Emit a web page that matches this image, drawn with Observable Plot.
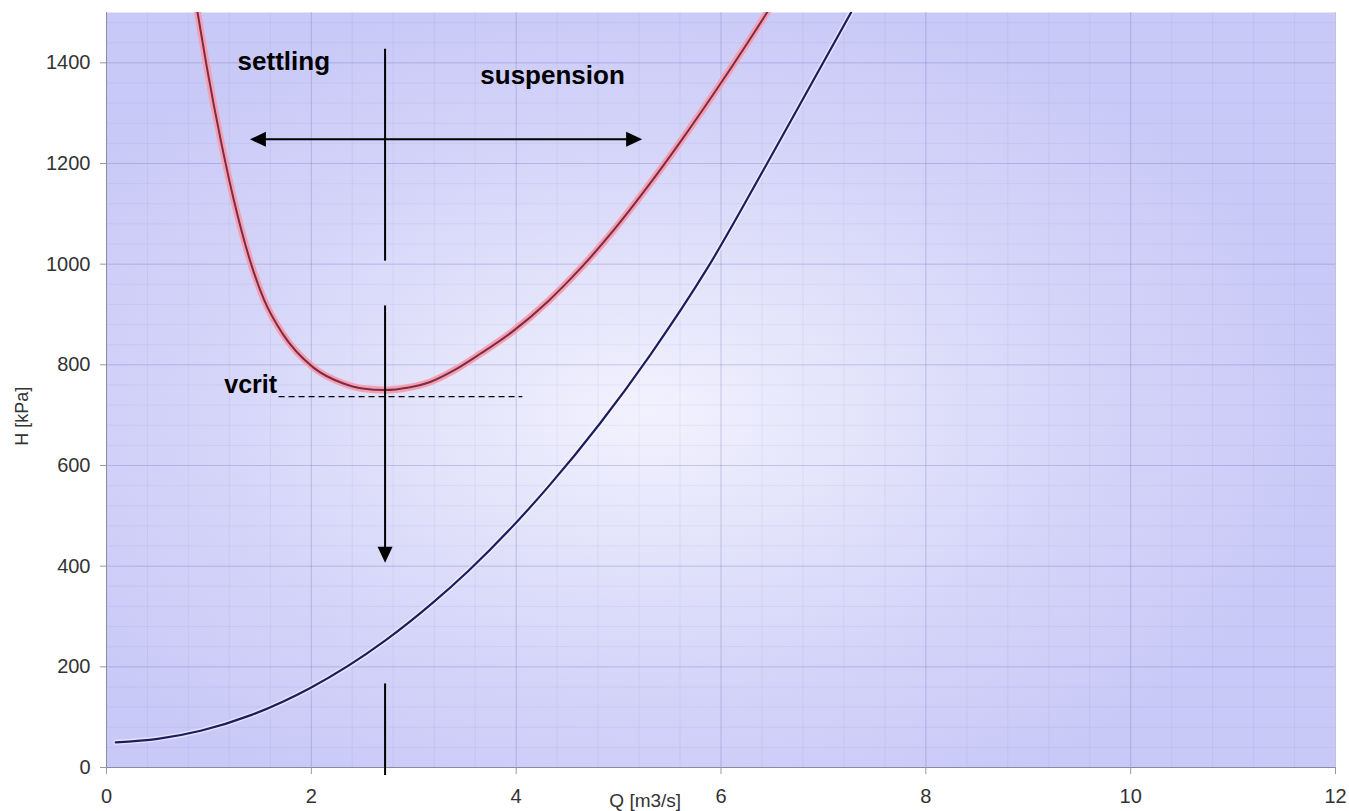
<!DOCTYPE html>
<html>
<head>
<meta charset="utf-8">
<script src="https://cdn.jsdelivr.net/npm/d3@7"></script>
<script src="https://cdn.jsdelivr.net/npm/@observablehq/plot@0.6"></script>
<style>
  html, body { margin: 0; padding: 0; background: #ffffff; }
  #chart { width: 1349px; height: 811px; }
</style>
</head>
<body>
<div id="chart"></div>
<script>
// ---- data ----
const xTicks = [0, 2, 4, 6, 8, 10, 12];
const yTicks = [0, 200, 400, 600, 800, 1000, 1200, 1400];

// red curve (settling / suspension boundary)
const redQ = [0.889, 0.98, 1.116, 1.245, 1.411, 1.541, 1.719, 2.018, 2.314, 2.5, 2.72, 2.95, 3.16, 3.4, 3.65, 3.97, 4.31, 4.63, 4.95, 5.28, 5.61, 5.93, 6.26, 6.45];
const redH = [1500, 1391, 1246, 1126, 1001, 928, 862, 795, 763, 753, 750, 755, 766, 790, 822, 867, 926, 992, 1067, 1153, 1245, 1339, 1440, 1500];

// dark blue curve
const blueQ = [0.09, 0.5, 0.92, 1.41, 1.99, 2.72, 3.19, 3.53, 4.31, 4.82, 5.31, 5.87, 6.45, 7.27];
const blueH = [50, 57, 73, 104, 158, 252, 328, 390, 557, 684, 820, 993, 1200, 1500];

// annotations
const vcritQ = 2.72;
const vSegY1 = [1428, 918, 167];
const vSegY2 = [1007, 425, -15];
const hArrowH = 1248;
const hArrowQ = [1.40, 5.23];
const hLineQ = [1.52, 5.11];
const downTipH = 407;
const dashQ = [1.68, 4.06];
const dashH = 737;
const labels = ["settling", "suspension", "vcrit"];
const labelQ = [1.28, 3.65, 1.15];
const labelH = [1385, 1357, 744];
const labelSize = [26, 26, 25];
const xTitle = "Q [m3/s]";
const xTitleQ = 5.26;
const yTitle = "H [kPa]";
const yTitleH = 698;

// ---- tables ----
const red = redQ.map((q, i) => ({q, h: redH[i]}));
const blue = blueQ.map((q, i) => ({q, h: blueH[i]}));
const vSegs = vSegY1.map((y1, i) => ({x: vcritQ, y1, y2: vSegY2[i]}));
const heads = [
  {q: hArrowQ[0], h: hArrowH, a: -90},
  {q: hArrowQ[1], h: hArrowH, a: 90},
  {q: vcritQ, h: downTipH, a: 180}
];
const texts = labels.map((t, i) => ({t, q: labelQ[i], h: labelH[i], s: labelSize[i]}));
const minorX = d3.range(0, 12.001, 0.4);
const minorY = d3.range(0, 1500.1, 40);

// arrowhead symbol with its tip at the origin, pointing up
const arrowHead = {
  draw(context) {
    context.moveTo(0, 0);
    context.lineTo(7.5, 16);
    context.lineTo(-7.5, 16);
    context.closePath();
  }
};

const svg = Plot.plot({
  width: 1349,
  height: 811,
  marginLeft: 106,
  marginRight: 14,
  marginTop: 12,
  marginBottom: 44,
  x: {domain: [0, 12]},
  y: {domain: [0, 1500]},
  style: {fontFamily: "'Liberation Sans', Arial, sans-serif", background: "#ffffff", overflow: "visible", color: "#333"},
  marks: [
    Plot.frame({fill: "url(#bgGrad)", stroke: null}),
    Plot.gridX(minorX, {stroke: "#6a6ac0", strokeOpacity: 0.08}),
    Plot.gridY(minorY, {stroke: "#6a6ac0", strokeOpacity: 0.08}),
    Plot.gridX(xTicks, {stroke: "#5a5aa8", strokeOpacity: 0.2}),
    Plot.gridY(yTicks, {stroke: "#5a5aa8", strokeOpacity: 0.2}),
    Plot.ruleX([0], {stroke: "#8a8aa0"}),
    Plot.ruleY([0], {stroke: "#8a8aa0"}),
    Plot.axisX({ticks: xTicks, tickSize: 7, tickPadding: 14, fontSize: 20, label: null, stroke: "#999", fill: "#333", tickFormat: d => `${d}`}),
    Plot.axisY({ticks: yTicks, tickSize: 6, tickPadding: 10, fontSize: 20, label: null, stroke: "#999", fill: "#333", tickFormat: d => `${d}`}),
    // curves
    Plot.line(red, {x: "q", y: "h", curve: "monotone-x", stroke: "#f5a0ae", strokeWidth: 7, clip: true}),
    Plot.line(red, {x: "q", y: "h", curve: "monotone-x", stroke: "#7a2a4a", strokeWidth: 2, clip: true}),
    Plot.line(blue, {x: "q", y: "h", curve: "monotone-x", stroke: "#ffffff", strokeOpacity: 0.5, strokeWidth: 5, clip: true}),
    Plot.line(blue, {x: "q", y: "h", curve: "monotone-x", stroke: "#1c1c5e", strokeWidth: 2.2, clip: true}),
    // annotations
    Plot.link(vSegs, {x1: "x", x2: "x", y1: "y1", y2: "y2", stroke: "#000", strokeWidth: 2}),
    Plot.link([{a: hLineQ[0], b: hLineQ[1]}], {x1: "a", x2: "b", y1: () => hArrowH, y2: () => hArrowH, stroke: "#000", strokeWidth: 2}),
    Plot.dot(heads, {x: "q", y: "h", rotate: "a", symbol: arrowHead, fill: "#000", stroke: null, r: 6}),
    Plot.link([{a: dashQ[0], b: dashQ[1]}], {x1: "a", x2: "b", y1: () => dashH, y2: () => dashH, stroke: "#000", strokeWidth: 1.3, strokeDasharray: "6,4"}),
    Plot.text(texts, {x: "q", y: "h", text: "t", fontSize: "s", fontWeight: "bold", textAnchor: "start", lineAnchor: "bottom", fill: "#000"}),
    // axis titles
    Plot.text([xTitle], {x: () => xTitleQ, frameAnchor: "bottom", dy: 39, lineAnchor: "bottom", textAnchor: "middle", fontSize: 19, fill: "#333"}),
    Plot.text([yTitle], {y: () => yTitleH, frameAnchor: "left", dx: -84, rotate: -90, textAnchor: "middle", lineAnchor: "middle", fontSize: 18, fill: "#333"})
  ]
});

const ns = "http://www.w3.org/2000/svg";
const defs = document.createElementNS(ns, "defs");
defs.innerHTML = `
  <radialGradient id="bgGrad" cx="0.44" cy="0.53" r="0.56" gradientUnits="objectBoundingBox">
    <stop offset="0" stop-color="#f2f2fe"/>
    <stop offset="0.3" stop-color="#e4e4fb"/>
    <stop offset="0.65" stop-color="#d4d4f9"/>
    <stop offset="1" stop-color="#c9c9f7"/>
  </radialGradient>`;
svg.insertBefore(defs, svg.firstChild);
document.getElementById("chart").appendChild(svg);
</script>
</body>
</html>
